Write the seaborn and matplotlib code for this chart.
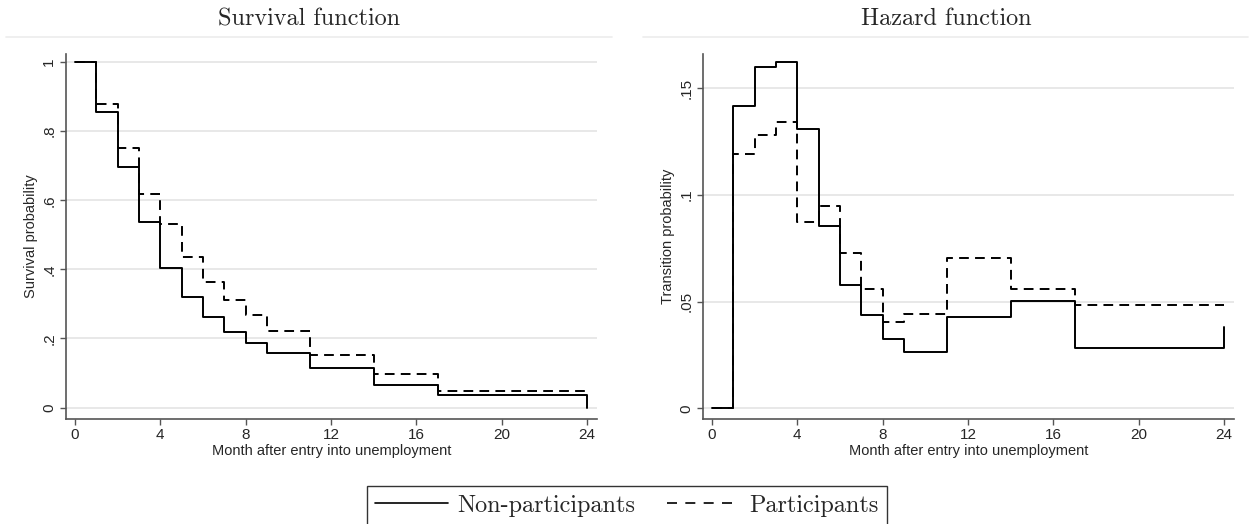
import matplotlib
matplotlib.use("Agg")
import matplotlib.pyplot as plt
from matplotlib.lines import Line2D
import seaborn as sns
import pandas as pd

# step points (month after entry)
months = [0, 1, 2, 3, 4, 5, 6, 7, 8, 9, 11, 14, 17, 24]
surv_non = [1.0, 0.855, 0.697, 0.537, 0.405, 0.320, 0.262, 0.219, 0.186, 0.159, 0.116, 0.066, 0.037, 0.0]
surv_par = [1.0, 0.879, 0.751, 0.618, 0.531, 0.435, 0.364, 0.310, 0.267, 0.223, 0.153, 0.096, 0.048, 0.048]
haz_non = [0.0, 0.1419, 0.160, 0.1622, 0.1308, 0.0855, 0.0578, 0.0437, 0.0326, 0.0263, 0.0428, 0.0505, 0.0285, 0.038]
haz_par = [0.0, 0.1193, 0.1283, 0.1344, 0.0872, 0.095, 0.0727, 0.0559, 0.0406, 0.0444, 0.0705, 0.0558, 0.0483, 0.0483]
groups = ["Non-participants", "Participants"]

x_ticks = [0, 4, 8, 12, 16, 20, 24]
surv_ticks = [0, 0.2, 0.4, 0.6, 0.8, 1]
surv_labels = ["0", ".2", ".4", ".6", ".8", "1"]
haz_ticks = [0, 0.05, 0.1, 0.15]
haz_labels = ["0", ".05", ".1", ".15"]


def long_frame(non, par):
    return pd.DataFrame({
        "month": months * 2,
        "value": non + par,
        "group": [groups[0]] * len(months) + [groups[1]] * len(months),
    })


sns.set_style("white")
plt.rcParams["font.family"] = ["Liberation Sans", "DejaVu Sans"]
serif = ["cmr10", "DejaVu Serif"]

fig = plt.figure(figsize=(12.5, 5.24), dpi=100)
ax1 = fig.add_axes([0.0528, 0.201, 0.4248, 0.696])
ax2 = fig.add_axes([0.5624, 0.201, 0.4248, 0.696])

dash_map = {groups[0]: "", groups[1]: (5, 3.2)}

panels = [
    (ax1, long_frame(surv_non, surv_par), (-0.032, 1.023), surv_ticks, surv_labels, "Survival probability"),
    (ax2, long_frame(haz_non, haz_par), (-0.0048, 0.1661), haz_ticks, haz_labels, "Transition probability"),
]

for ax, df, ylim, yt, yl, ylab in panels:
    for t in yt:
        ax.axhline(t, color="#e6e6e6", lw=1.3, zorder=0)
    sns.lineplot(data=df, x="month", y="value", style="group", dashes=dash_map,
                 color="black", lw=1.4, drawstyle="steps-post", errorbar=None,
                 legend=False, ax=ax)
    ax.set_xlim(-0.42, 24.47)
    ax.set_ylim(*ylim)
    ax.set_xticks(x_ticks)
    ax.set_xticklabels([str(v) for v in x_ticks])
    ax.set_yticks(yt)
    ax.set_yticklabels(yl, rotation=90, va="center")
    ax.tick_params(axis="both", direction="out", length=4, width=1, color="#555555",
                   labelsize=11, pad=3, bottom=True, left=True)
    ax.set_xlabel("Month after entry into unemployment", fontsize=10.5, labelpad=1)
    ax.set_ylabel(ylab, fontsize=10.5, labelpad=3)
    sns.despine(ax=ax)
    for s in ["left", "bottom"]:
        ax.spines[s].set_color("#555555")
        ax.spines[s].set_linewidth(1.2)
    ax.set_facecolor("white")

# panel titles and thin top rules
fig.text(309 / 1250, 1 - 19 / 524, "Survival function", ha="center", va="center",
         fontsize=17.4, family=serif)
fig.text(946 / 1250, 1 - 19 / 524, "Hazard function", ha="center", va="center",
         fontsize=17.4, family=serif)
for x0, x1 in [(6, 612), (643, 1248)]:
    fig.add_artist(Line2D([x0 / 1250, x1 / 1250], [1 - 37 / 524] * 2,
                          color="#ececec", lw=1.2, transform=fig.transFigure))

handles = [
    Line2D([], [], color="black", lw=1.2),
    Line2D([], [], color="black", lw=1.2, dashes=(6, 5)),
]
leg = fig.legend(handles, groups, loc="upper center", bbox_to_anchor=(0.5015, 1 - 486 / 524),
                 ncol=2, frameon=True, fancybox=False, edgecolor="black",
                 prop={"family": serif, "size": 17.4}, handlelength=3.0,
                 columnspacing=1.3, handletextpad=0.4, borderpad=0.35, borderaxespad=0)
leg.get_frame().set_linewidth(1.0)

fig.savefig("out.png", dpi=100, facecolor="white")
